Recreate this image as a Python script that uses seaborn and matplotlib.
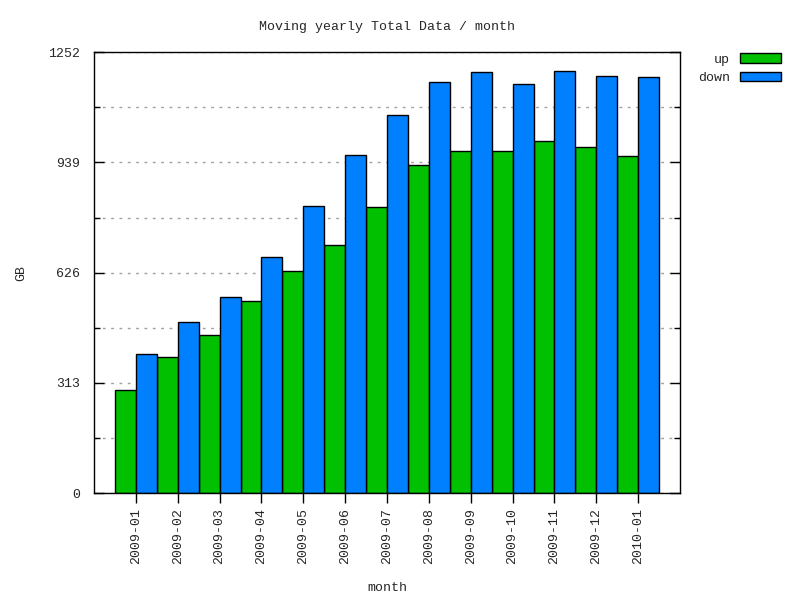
import numpy as np
import pandas as pd
import matplotlib
matplotlib.use('Agg')
import matplotlib.pyplot as plt
import seaborn as sns
from matplotlib.ticker import FixedLocator

months = ['2009-01', '2009-02', '2009-03', '2009-04', '2009-05', '2009-06', '2009-07',
          '2009-08', '2009-09', '2009-10', '2009-11', '2009-12', '2010-01']
up = [292, 386, 449, 545, 630, 704, 812, 931, 971, 971, 999, 982, 957]
down = [395, 485, 556, 670, 815, 960, 1073, 1167, 1195, 1161, 1198, 1184, 1181]
yticks = [0, 313, 626, 939, 1252]

df = pd.DataFrame({'month': months * 2,
                   'GB': up + down,
                   'kind': ['up'] * len(up) + ['down'] * len(down)})

sns.set_theme(style='white')
plt.rcParams['font.family'] = ['Liberation Mono', 'DejaVu Sans Mono']
plt.rcParams['font.size'] = 9.5

fig = plt.figure(figsize=(8, 6), dpi=100)
ax = fig.add_axes([0.1175, 0.178, 0.7325, 0.735])

sns.barplot(data=df, x='month', y='GB', hue='kind', palette=['#00c000', '#0080ff'],
            width=1.0, edgecolor='black', linewidth=1, saturation=1, ax=ax, zorder=2)

ax.set_xlim(-1, 13)
ax.set_ylim(0, 1252)
ax.yaxis.set_major_locator(FixedLocator(yticks))
ax.yaxis.set_minor_locator(FixedLocator([156.5, 469.5, 782.5, 1095.5]))
ax.grid(True, which='both', axis='y', color='#a0a0a0', linestyle=(0, (2, 4)), linewidth=1, zorder=0)
ax.set_axisbelow(True)
ax.tick_params(axis='y', which='major', direction='in', length=7, width=1, left=True, right=True,
               color='black', labelsize=9.5, pad=10)
ax.tick_params(axis='y', which='minor', direction='in', length=4, width=1, left=True, right=True, color='black')
ax.tick_params(axis='x', direction='out', length=7, width=1, bottom=True, color='black', labelsize=9.5)
plt.setp(ax.get_xticklabels(), rotation=90)
for s in ax.spines.values():
    s.set_color('black')
    s.set_linewidth(1)

ax.set_title('Moving yearly Total Data / month', fontsize=9.5, pad=16)
ax.set_xlabel('month', fontsize=9.5, labelpad=13)
ax.set_ylabel('GB', fontsize=9.5, labelpad=15)

ax.legend(loc='upper left', bbox_to_anchor=(1.01, 1.024), frameon=False, markerfirst=False,
          handlelength=3.1, handleheight=0.7, fontsize=9.5, labelspacing=0.45)

fig.savefig('out.png', dpi=100)
